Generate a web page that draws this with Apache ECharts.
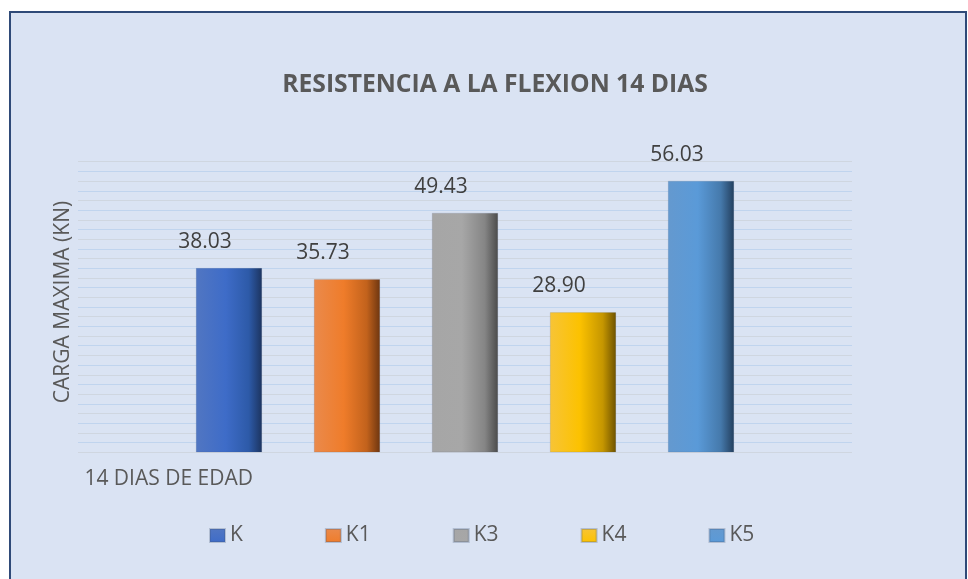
<!DOCTYPE html>
<html>
<head>
<meta charset="utf-8">
<script src="https://cdn.jsdelivr.net/npm/echarts@6/dist/echarts.min.js"></script>
<style>
html,body{margin:0;padding:0;background:#ffffff;}
#chart{width:968px;height:579px;}
</style>
</head>
<body>
<div id="chart"></div>
<script>
var titleText = 'RESISTENCIA A LA FLEXION 14 DIAS';
var categories = ['14 DIAS DE EDAD'];
var seriesNames = ['K', 'K1', 'K3', 'K4', 'K5'];
var seriesValues = [38.03, 35.73, 49.43, 28.90, 56.03];
var yAxisName = 'CARGA MAXIMA (KN)';

var palettes = [
  ['#5176c2', '#3e6cc8', '#2d5aa8', '#1c3460'],
  ['#ea8a4c', '#ef7c2a', '#c2621c', '#6e3610'],
  ['#a6a6a6', '#a7a7a7', '#858585', '#4b4b4b'],
  ['#f7c437', '#fcc200', '#c59600', '#6e5200'],
  ['#6499cf', '#5a9ad8', '#4579ab', '#233f5e']
];
function grad(p) {
  return new echarts.graphic.LinearGradient(0, 0, 1, 0, [
    {offset: 0, color: p[0]},
    {offset: 0.45, color: p[1]},
    {offset: 0.8, color: p[2]},
    {offset: 1, color: p[3]}
  ]);
}
function legendGrad(p) {
  return new echarts.graphic.LinearGradient(0, 0, 0, 1, [
    {offset: 0, color: p[0]},
    {offset: 1, color: p[1]}
  ]);
}

var chart = echarts.init(document.getElementById('chart'), null, {renderer: 'canvas'});
var series = seriesNames.map(function (name, i) {
  return {
    name: name,
    type: 'bar',
    data: [seriesValues[i]],
    barWidth: 66,
    barGap: '78.8%',
    itemStyle: {color: grad(palettes[i]), borderColor: 'rgba(60,80,110,0.25)', borderWidth: 0.5},
    label: {
      show: true,
      position: 'top',
      distance: 14,
      offset: [-24, 0],
      formatter: function (p) { return p.value.toFixed(2); },
      fontFamily: 'Open Sans',
      fontSize: 21,
      lineHeight: 24,
      color: '#404040'
    },
    emphasis: {disabled: true}
  };
});

chart.setOption({
  animation: false,
  backgroundColor: '#ffffff',
  graphic: [{
    type: 'rect',
    shape: {x: 10, y: 12, width: 956, height: 580},
    style: {fill: '#dae3f3', stroke: '#2f4a78', lineWidth: 2},
    z: -10,
    silent: true
  }, {
    type: 'group',
    x: 63,
    y: 302,
    rotation: Math.PI / 2,
    children: [{
      type: 'text',
      x: 0,
      y: 0,
      style: {
        text: yAxisName,
        fill: '#595959',
        font: '21px "Open Sans"',
        align: 'center',
        verticalAlign: 'middle'
      }
    }],
    silent: true
  }],
  title: {
    text: titleText,
    left: 490,
    top: 67,
    textAlign: 'center',
    textStyle: {fontFamily: 'Open Sans', fontWeight: 'bold', fontSize: 24.7, color: '#595959'}
  },
  legend: {
    data: seriesNames.map(function (n, i) { return {name: n, itemStyle: {color: legendGrad(palettes[i])}}; }),
    left: 209,
    top: 525,
    padding: 0,
    icon: 'rect',
    itemWidth: 15,
    itemHeight: 13,
    itemGap: 82,
    textStyle: {fontFamily: 'Open Sans', fontSize: 21, color: '#595959'},
    selectedMode: false
  },
  grid: {left: 78, right: 116, top: 161.7, bottom: 126.7, containLabel: false},
  xAxis: {
    type: 'category',
    data: categories,
    axisLine: {show: false},
    axisTick: {show: false},
    axisLabel: {
      show: true,
      align: 'right',
      padding: [0, 212, 0, 0],
      margin: 16,
      fontFamily: 'Open Sans',
      fontSize: 21,
      color: '#595959'
    }
  },
  yAxis: {
    type: 'value',
    min: 0,
    max: 60,
    interval: 2,
    axisLine: {show: false},
    axisTick: {show: false},
    axisLabel: {show: false},
    splitLine: {show: true, lineStyle: {color: ['#cfd6e0', '#c0d4ee'], width: 1}}
  },
  series: series
});
</script>
</body>
</html>
